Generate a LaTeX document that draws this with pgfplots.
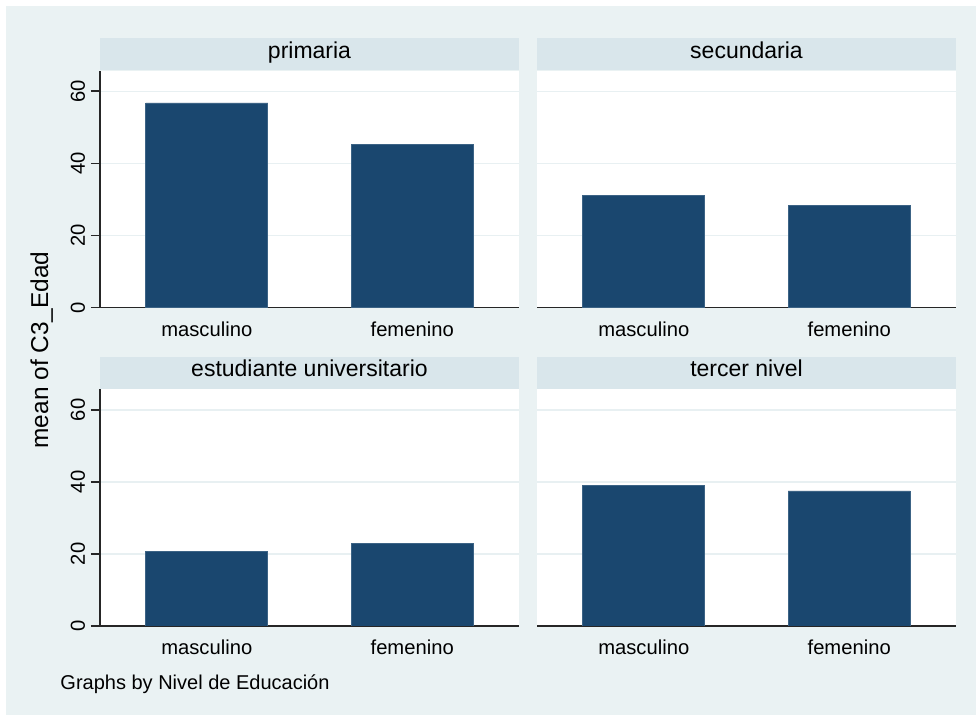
\documentclass[border=0pt]{standalone}
\usepackage{fontspec}
\setmainfont{Liberation Sans}
\usepackage{pgfplots}
\pgfplotsset{compat=1.18}
\definecolor{bgc}{HTML}{EAF2F3}
\definecolor{stripc}{HTML}{D9E6EB}
\definecolor{gridc}{HTML}{E8F0F2}
\definecolor{barc}{HTML}{1A476F}
\pgfplotsset{
  layers/mylayers/.define layer set={axis background,axis grid,main,axis ticks,axis lines,axis tick labels,axis descriptions,axis foreground}{},
  panel/.style={
    set layers=mylayers,
    scale only axis, width=209.5pt, height=118.5pt,
    anchor=south west,
    xmin=0.48, xmax=2.52, ymin=0, ymax=65.8,
    axis x line*=bottom, axis y line*=left,
    axis line style={line width=0.9pt, color=black!85},
    xtick={1,2}, xticklabels={masculino,femenino},
    ytick={0,20,40,60},
    ymajorgrids, major grid style={line width=0.75pt, color=gridc},
    tick align=outside, major tick length=4.5pt,
    xtick style={draw=none},
    ytick style={line width=0.9pt, color=black!85},
    tick label style={font=\fontsize{10.1}{12}\selectfont},
    xticklabel style={anchor=base, yshift=-10pt},
    yticklabel style={xshift=-3pt, rotate=90, anchor=base},
    /pgf/number format/assume math mode=true,
    axis background/.style={fill=white},
    every axis title shift=0pt,
    title style={at={(0.5,1)}, anchor=south, fill=stripc, minimum width=209.5pt, minimum height=16pt, inner sep=0pt, text height=7.5pt, text depth=3.5pt, font=\fontsize{11.5}{13}\selectfont},
  },
  rightpanel/.style={yticklabels={}, ytick style={draw=none}, y axis line style={draw=none}},
  barstyle/.style={ybar, bar width=0.594, bar shift=0pt, fill=barc, draw=barc!85!white, line width=0.4pt},
}
\begin{document}
\begin{tikzpicture}
\fill[white] (0pt,0pt) rectangle (488pt,-357.5pt);
\fill[bgc] (3pt,-3pt) rectangle (488pt,-357.5pt);

\begin{axis}[panel, at={(50pt,-153.75pt)}, title={primaria}]
\addplot[barstyle] coordinates {(1,56.8) (2,45.2)};
\end{axis}

\begin{axis}[panel, rightpanel, at={(268.5pt,-153.75pt)}, title={secundaria}]
\addplot[barstyle] coordinates {(1,31.1) (2,28.4)};
\end{axis}

\begin{axis}[panel, at={(50pt,-313pt)}, title={estudiante universitario}]
\addplot[barstyle] coordinates {(1,20.8) (2,22.9)};
\end{axis}

\begin{axis}[panel, rightpanel, at={(268.5pt,-313pt)}, title={tercer nivel}]
\addplot[barstyle] coordinates {(1,38.9) (2,37.5)};
\end{axis}

\node[rotate=90, anchor=base, font=\fontsize{12.2}{14}\selectfont] at (24pt,-175pt) {mean of C3\_Edad};
\node[anchor=base west, font=\fontsize{10}{12}\selectfont] at (26.7pt,-344.75pt) {Graphs by Nivel de Educación};
\end{tikzpicture}
\end{document}
